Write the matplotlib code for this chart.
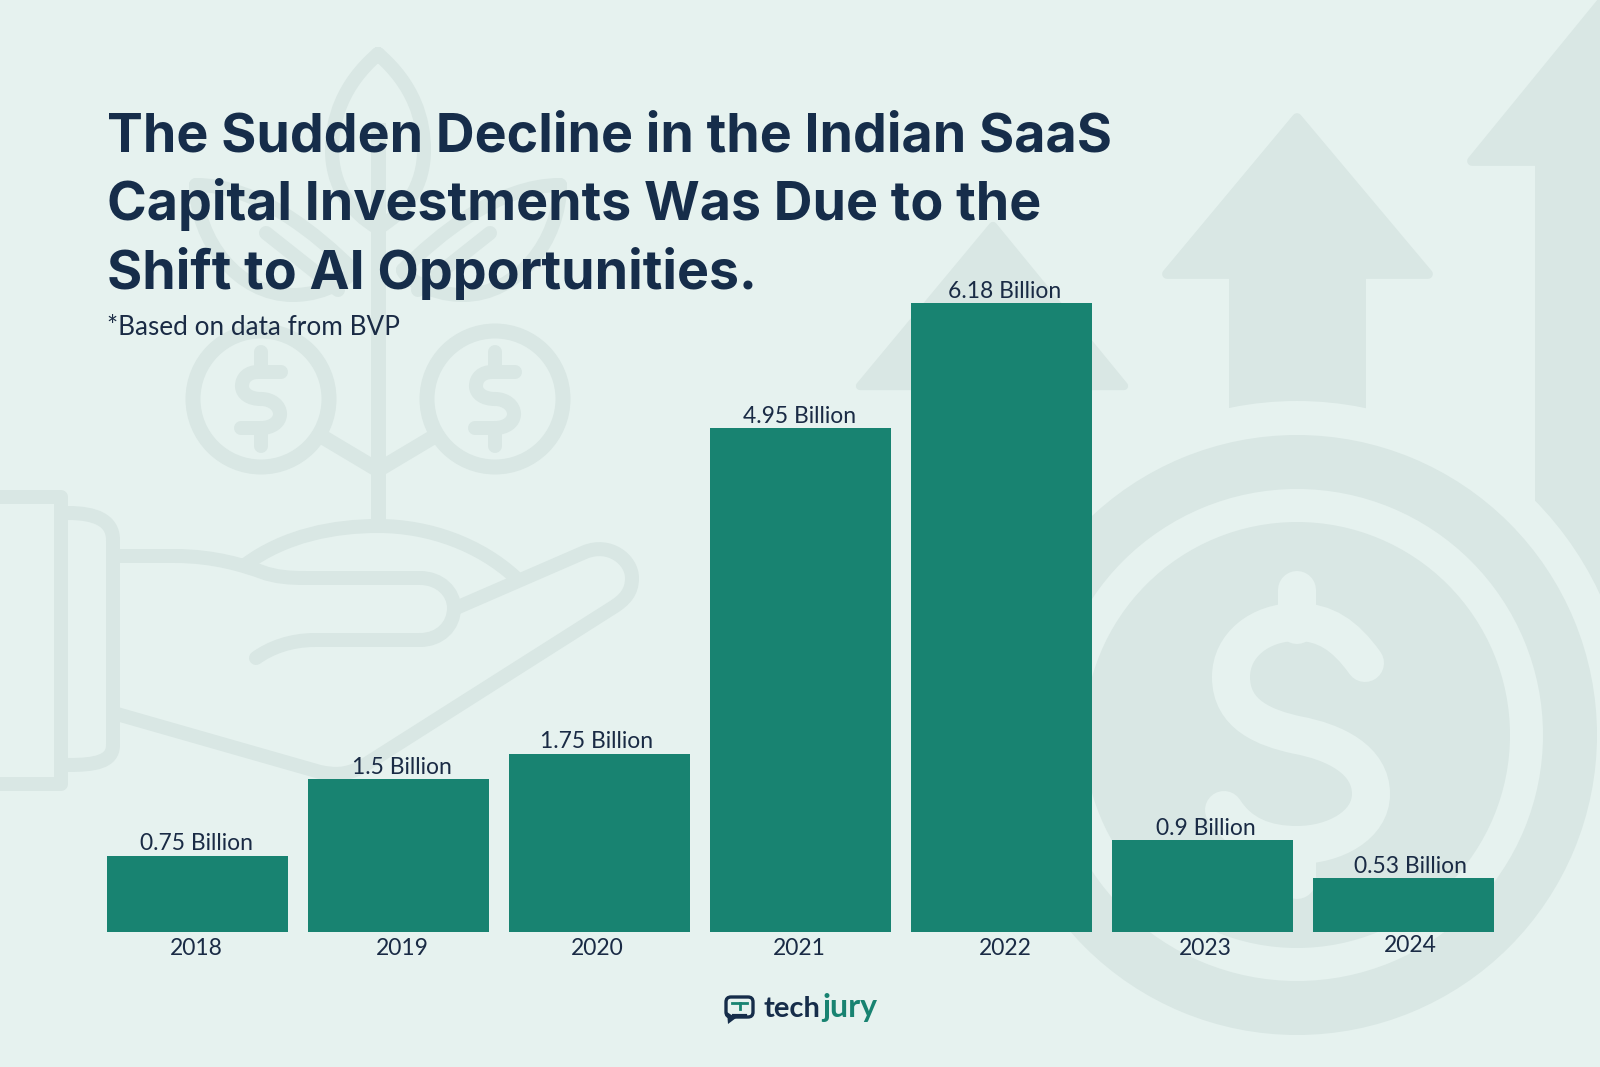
import matplotlib
matplotlib.use("Agg")
import matplotlib.pyplot as plt
from matplotlib.patches import Circle, Polygon, PathPatch, Wedge, FancyBboxPatch
from matplotlib.path import Path
from matplotlib.transforms import ScaledTranslation

# values
years = ["2018", "2019", "2020", "2021", "2022", "2023", "2024"]
investments = [0.75, 1.5, 1.75, 4.95, 6.18, 0.9, 0.53]
value_labels = ["0.75 Billion", "1.5 Billion", "1.75 Billion", "4.95 Billion",
                "6.18 Billion", "0.9 Billion", "0.53 Billion"]
title_lines = ["The Sudden Decline in the Indian SaaS",
               "Capital Investments Was Due to the",
               "Shift to AI Opportunities."]
subtitle = "*Based on data from BVP"

BG = "#e6f2ef"
DECOR = "#d9e7e4"
BAR = "#188371"
NAVY = "#162d4a"
TEXT = "#1a2b45"
W, H = 1600, 1067


def stroke(ax, verts, codes, lw=14):
    # lw is in picture pixels
    ax.add_patch(PathPatch(Path(verts, codes), fill=False, ec=DECOR, lw=lw * 0.72,
                           capstyle="round", joinstyle="round"))


def curve(start, *segs):
    # each seg is a point (line) or three points (bezier)
    verts, codes = [start], [Path.MOVETO]
    for s in segs:
        if len(s) == 2:
            verts.append(s)
            codes.append(Path.LINETO)
        else:
            verts += [s[0:2], s[2:4], s[4:6]]
            codes += [Path.CURVE4] * 3
    return verts, codes


def draw_coin(ax, cx, cy):
    ax.add_patch(Circle((cx, cy), 68, fill=False, ec=DECOR, lw=15 * 0.72))
    v, c = curve((cx + 20, cy - 27), (cx - 3, cy - 27),
                 (cx - 13, cy - 27, cx - 19, cy - 21, cx - 19, cy - 13),
                 (cx - 19, cy - 5, cx - 11, cy, cx, cy),
                 (cx + 11, cy, cx + 19, cy + 7, cx + 19, cy + 15),
                 (cx + 19, cy + 23, cx + 11, cy + 29, cx, cy + 29),
                 (cx - 20, cy + 29))
    stroke(ax, v, c)
    ax.plot([cx, cx], [cy - 47, cy - 27], color=DECOR, lw=14 * 0.72, solid_capstyle="round")
    ax.plot([cx, cx], [cy + 29, cy + 47], color=DECOR, lw=14 * 0.72, solid_capstyle="round")


def draw_background(ax):
    # arrows on the right
    ax.add_patch(Polygon([(993, 226), (860, 386), (1124, 386)], fc=DECOR, ec=DECOR, lw=6, joinstyle="round"))
    ax.add_patch(Polygon([(1297, 118), (1167, 274), (1428, 274)], fc=DECOR, ec=DECOR, lw=7, joinstyle="round"))
    ax.add_patch(Polygon([(1229, 278), (1365.5, 278), (1365.5, 420), (1229, 420)], fc=DECOR, ec="none"))
    ax.add_patch(Polygon([(1610, -8), (1472, 161), (1610, 161)], fc=DECOR, ec=DECOR, lw=7, joinstyle="round"))
    ax.add_patch(Polygon([(1534.6, 160), (1600, 160), (1600, 620), (1534.6, 620)], fc=DECOR, ec="none"))
    # gap around the big coin
    ax.add_patch(Circle((1297, 735), 334, fc=BG, ec="none"))
    ax.add_patch(Wedge((1297, 735), 300, 0, 360, width=54, fc=DECOR, ec="none"))
    ax.add_patch(Circle((1297, 735), 213, fc=DECOR, ec="none"))
    v, c = curve((1365, 663),
                 (1345, 635, 1325, 622, 1297, 622),
                 (1260, 622, 1231, 645, 1231, 677),
                 (1231, 715, 1265, 728, 1297, 735),
                 (1335, 742, 1371, 760, 1371, 794),
                 (1371, 825, 1335, 845, 1297, 845),
                 (1265, 845, 1240, 835, 1224, 810))
    ax.add_patch(PathPatch(Path(v, c), fill=False, ec=BG, lw=38 * 0.72, capstyle="round"))
    ax.plot([1297, 1297], [590, 625], color=BG, lw=38 * 0.72, solid_capstyle="round")
    ax.plot([1297, 1297], [845, 880], color=BG, lw=38 * 0.72, solid_capstyle="round")

    # plant and coins on the left
    stroke(ax, *curve((378, 54), (342, 85, 332, 120, 332, 150), (332, 185, 350, 212, 378, 228),
                      (406, 212, 424, 185, 424, 150), (424, 120, 414, 85, 378, 54)))
    ax.plot([378, 378], [130, 522], color=DECOR, lw=15 * 0.72)
    for sign in (-1, 1):
        stroke(ax, *curve((378 + sign * 182, 185), (378 + sign * 182, 240, 378 + sign * 140, 295, 378 + sign * 85, 295),
                          (378 + sign * 50, 295, 378 + sign * 25, 275, 378 + sign * 25, 270)))
        stroke(ax, *curve((378 + sign * 182, 185), (378 + sign * 120, 185, 378 + sign * 60, 235, 378 + sign * 25, 270)))
        stroke(ax, *curve((378 + sign * 112, 233), (378 + sign * 40, 290)))
        ax.plot([378, 378 + sign * 57], [470, 436], color=DECOR, lw=15 * 0.72)
    draw_coin(ax, 261, 399)
    draw_coin(ax, 495, 399)

    # hand
    stroke(ax, *curve((0, 497), (61, 497), (61, 784), (0, 784)))
    stroke(ax, *curve((68, 513), (95, 513, 113, 520, 113, 540), (113, 745), (113, 762, 95, 765, 68, 765)))
    stroke(ax, *curve((117, 556), (175, 556), (215, 556, 245, 566, 262, 572), (275, 577, 290, 578, 305, 578),
                      (420, 578), (440, 578, 454, 592, 454, 608), (454, 626, 440, 640, 420, 640),
                      (315, 640), (290, 640, 270, 648, 256, 658)))
    stroke(ax, *curve((456, 608), (585, 552), (610, 542, 632, 560, 632, 578), (632, 592, 625, 600, 612, 608),
                      (360, 768), (345, 775, 335, 775, 320, 772), (117, 714)))
    stroke(ax, *curve((245, 565), (285, 535, 335, 526, 378, 526), (430, 526, 480, 545, 515, 577)))


def draw_logo(ax):
    ax.add_patch(FancyBboxPatch((726, 997), 27, 20, boxstyle="round,pad=0,rounding_size=5",
                                fc="none", ec=NAVY, lw=2.4))
    ax.add_patch(Polygon([(727, 1012), (728, 1024), (736, 1018)], fc=NAVY, ec="none"))
    ax.plot([732, 747], [1003, 1003], color=BAR, lw=2)
    ax.plot([739.5, 739.5], [1003, 1009], color=BAR, lw=2)
    ax.plot([734, 745], [1016, 1016], color=NAVY, lw=3)
    ax.text(763, 1017, "tech", fontsize=21, fontweight="bold", family="Lato", color=NAVY, va="baseline")
    ax.text(822, 1017, "jury", fontsize=23, fontweight="bold", family="Lato", color=BAR, va="baseline")


fig = plt.figure(figsize=(W / 100, H / 100), dpi=100, facecolor=BG)

# full figure layer in picture pixels, for the artwork and the heading
bg_ax = fig.add_axes([0, 0, 1, 1])
bg_ax.set_xlim(0, W)
bg_ax.set_ylim(H, 0)
bg_ax.axis("off")
draw_background(bg_ax)

for i, line in enumerate(title_lines):
    bg_ax.text(107, 151 + i * 69, line, fontsize=38.7, fontweight="bold", family="Inter",
               color=NAVY, va="baseline", zorder=5)
bg_ax.text(107, 335, subtitle, fontsize=18.8, family="Lato", color=TEXT, va="baseline", zorder=5)
draw_logo(bg_ax)

# bar layer: slot pitch 201 px, base at y=932, top bar at y=303
left, right = 97, 1504
ax = fig.add_axes([left / W, (H - 932) / H, (right - left) / W, (932 - 303) / H])
ax.patch.set_alpha(0)
x = list(range(len(years)))
bars = ax.bar(x, investments, width=0.9, color=BAR)
ax.set_xlim(-0.5, 6.5)
ax.set_ylim(0, max(investments))
ax.set_yticks([])
for s in ax.spines.values():
    s.set_visible(False)

# labels in the picture sit a little off the bar centres
nudge = [-1.5, 3.5, -2.5, -1, 3.5, 3, 7]
for xi, val, lab, dx in zip(x, investments, value_labels, nudge):
    ax.annotate(lab, (xi, val), xytext=(dx * 0.72, 1), textcoords="offset points",
                ha="center", va="bottom", fontsize=16.5, family="Lato", color=TEXT, annotation_clip=False)

ax.set_xticks(x, years, fontsize=16.5, family="Lato", color=TEXT)
ax.tick_params(axis="x", length=0, pad=4)
for lab, dx, yr in zip(ax.get_xticklabels(), nudge, years):
    dy = 3 if yr == "2024" else 0
    lab.set_transform(lab.get_transform() + ScaledTranslation(dx / 72 * 0.72, dy / 100, fig.dpi_scale_trans))

fig.savefig("out.png", dpi=100, facecolor=BG)
